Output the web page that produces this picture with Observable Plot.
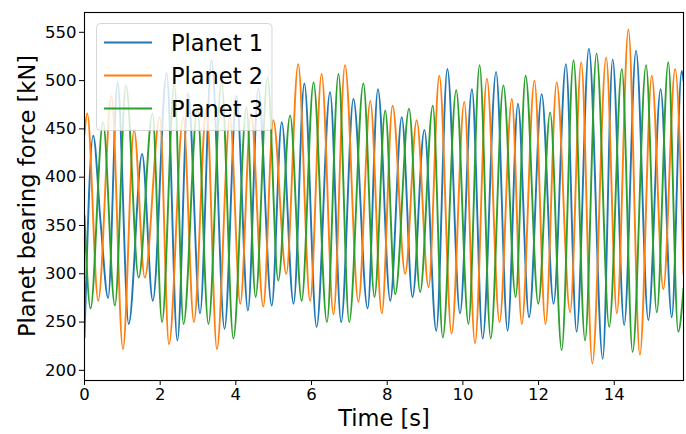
<!DOCTYPE html>
<html>
<head>
<meta charset="utf-8">
<script src="https://cdn.jsdelivr.net/npm/d3@7"></script>
<script src="https://cdn.jsdelivr.net/npm/@observablehq/plot@0.6"></script>
<style>
  html, body { margin: 0; padding: 0; background: #fff; }
  #chart { width: 686px; height: 434px; }
</style>
</head>
<body>
<div id="chart"></div>
<script>
// Series names and colours
const seriesNames = ["Planet 1", "Planet 2", "Planet 3"];
const seriesColors = ["#1f77b4", "#ff7f0e", "#2ca02c"];

// Tick values
const xTicks = [0, 2, 4, 6, 8, 10, 12, 14];
const yTicks = [200, 250, 300, 350, 400, 450, 500, 550];

// Axis titles
const xTitle = "Time [s]";
const yTitle = "Planet bearing force [kN]";

// [time s, force kN] read at peaks / troughs
const planet1 = [[0,234],[0.230,443],[0.428,352],[0.625,275],[0.874,498],[1.168,248],[1.522,424],[1.806,272],[2.171,508],[2.455,231],[2.739,487],[3.053,259],[3.357,521],[3.701,243],[4.016,484],[4.320,262],[4.593,492],[4.948,267],[5.212,457],[5.526,269],[5.810,497],[6.134,245],[6.489,488],[6.783,250],[7.107,481],[7.482,264],[7.755,491],[8.080,272],[8.384,462],[8.668,276],[8.982,449],[9.296,241],[9.590,512],[9.924,259],[10.239,491],[10.522,233],[10.877,509],[11.181,241],[11.455,476],[11.749,255],[12.083,486],[12.397,269],[12.722,517],[13.005,240],[13.330,533],[13.695,212],[13.958,522],[14.262,247],[14.576,531],[14.901,252],[15.225,491],[15.519,255],[15.782,510],[15.83,500]];

const planet2 = [[0,445],[0.073,466],[0.362,272],[0.712,484],[1.016,222],[1.310,449],[1.593,296],[1.989,462],[2.232,227],[2.607,462],[2.891,250],[3.225,472],[3.499,222],[3.843,462],[4.117,269],[4.401,466],[4.725,266],[4.989,459],[5.333,300],[5.647,517],[5.962,272],[6.266,507],[6.580,258],[6.884,516],[7.238,271],[7.553,479],[7.857,259],[8.141,474],[8.475,300],[8.779,459],[9.093,286],[9.377,505],[9.701,238],[10.036,478],[10.320,228],[10.634,502],[10.968,250],[11.293,481],[11.556,248],[11.890,500],[12.184,248],[12.478,498],[12.833,260],[13.127,519],[13.421,207],[13.786,524],[14.070,259],[14.374,553],[14.678,216],[14.992,505],[15.296,284],[15.610,512],[15.83,300]];

const planet3 = [[0,360],[0.159,264],[0.489,457],[0.803,267],[1.097,495],[1.431,296],[1.796,466],[2.049,250],[2.374,497],[2.617,248],[2.982,470],[3.276,248],[3.620,498],[3.935,233],[4.279,472],[4.522,276],[4.837,503],[5.120,293],[5.434,464],[5.739,272],[6.053,498],[6.407,250],[6.712,507],[6.995,250],[7.370,497],[7.664,276],[7.948,469],[8.211,279],[8.576,471],[8.870,281],[9.205,474],[9.468,234],[9.823,490],[10.147,248],[10.441,516],[10.735,233],[11.070,495],[11.394,276],[11.657,505],[11.992,269],[12.306,467],[12.610,221],[12.924,521],[13.228,231],[13.532,528],[13.867,245],[14.201,512],[14.485,219],[14.840,516],[15.124,260],[15.428,519],[15.691,240],[15.83,285]];

const allSeries = [planet1, planet2, planet3];
const rows = [];
allSeries.forEach((pts, i) => pts.forEach(([t, v]) => rows.push({t, v, s: seriesNames[i]})));

const font = "DejaVu Sans, Liberation Sans, sans-serif";

const chart = Plot.plot({
  width: 686,
  height: 434,
  marginLeft: 84,
  marginRight: 3,
  marginTop: 12,
  marginBottom: 54,
  style: {fontFamily: font, fontSize: "16.5px", color: "black", background: "white", overflow: "visible"},
  x: {domain: [0, 15.83]},
  y: {domain: [189.5, 570.5]},
  color: {domain: seriesNames, range: seriesColors},
  marks: [
    Plot.line(rows, {x: "t", y: "v", z: "s", stroke: "s", strokeWidth: 1.9, curve: "monotone-x", clip: true}),
    Plot.frame({stroke: "black", strokeWidth: 1.1}),
    Plot.axisX({ticks: xTicks, tickSize: 5, tickPadding: 3, label: null, fontSize: 16.5, tickFormat: d => String(d)}),
    Plot.axisY({ticks: yTicks, tickSize: 5, tickPadding: 3, label: null, fontSize: 16.5, tickFormat: d => String(d)})
  ]
});

document.getElementById("chart").appendChild(chart);

const svg = d3.select(chart);

// Axis titles
svg.append("text")
  .attr("x", 384).attr("y", 418).attr("dy", "0.36em")
  .attr("text-anchor", "middle")
  .attr("font-family", font).attr("font-size", 22.5).attr("fill", "black")
  .text(xTitle);
svg.append("text")
  .attr("transform", "translate(27,196) rotate(-90)")
  .attr("dy", "0.36em")
  .attr("text-anchor", "middle")
  .attr("font-family", font).attr("font-size", 22.5).attr("fill", "black")
  .text(yTitle);

// Legend (matplotlib style, semi-transparent box inside the axes)
const lg = svg.append("g").attr("font-family", font);
lg.append("rect")
  .attr("x", 96.5).attr("y", 23.5).attr("width", 175.5).attr("height", 107)
  .attr("rx", 4).attr("ry", 4)
  .attr("fill", "white").attr("fill-opacity", 0.8)
  .attr("stroke", "#cccccc").attr("stroke-opacity", 0.8).attr("stroke-width", 1);
const rowY = [42.5, 75.5, 108.5];
seriesNames.forEach((name, i) => {
  lg.append("line")
    .attr("x1", 104).attr("x2", 152).attr("y1", rowY[i]).attr("y2", rowY[i])
    .attr("stroke", seriesColors[i]).attr("stroke-width", 1.9);
  lg.append("text")
    .attr("x", 171).attr("y", rowY[i]).attr("dy", "0.36em")
    .attr("text-anchor", "start")
    .attr("font-size", 22.5).attr("fill", "black")
    .text(name);
});
</script>
</body>
</html>
